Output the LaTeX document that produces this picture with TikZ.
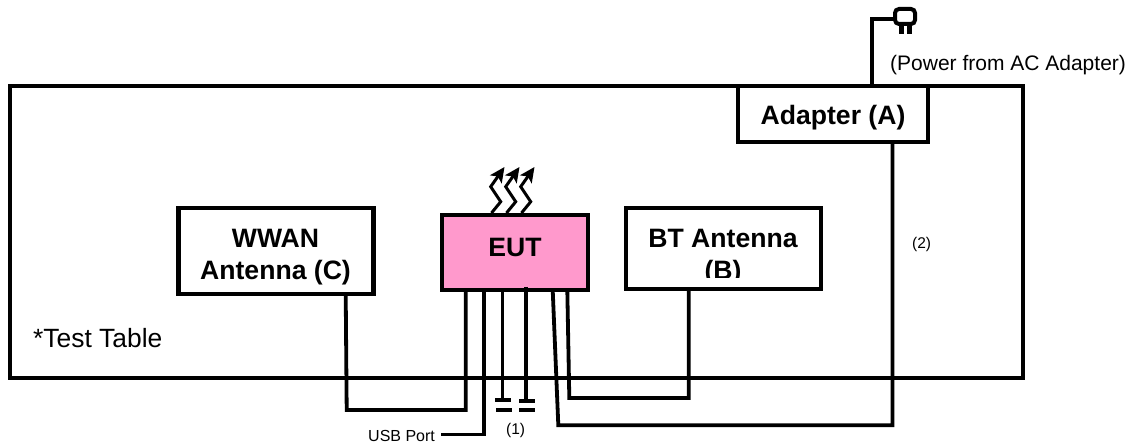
\documentclass[tikz,border=0pt]{standalone}
\usepackage{fontspec}
\setmainfont{Liberation Sans}
\usetikzlibrary{arrows.meta}
\definecolor{eutpink}{RGB}{255,153,204}
\tikzset{
  x=1pt,y=-1pt,
  box/.style={draw=black,line width=4.2pt,fill=white,inner sep=0pt,outer sep=0pt,anchor=north west},
  wire/.style={draw=black,line width=3.8pt,line join=miter},
  thinwire/.style={draw=black,line width=3.3pt},
  boxlabel/.style={font=\bfseries\fontsize{26.6}{32}\selectfont,align=center,anchor=center,inner sep=0pt},
  baselabel/.style={inner sep=0pt,anchor=base west},
  capplate/.style={draw=black,line width=4.2pt},
  emit/.style={draw=black,line width=3pt,line join=miter,-{Stealth[length=15pt,width=14pt,inset=3.5pt]}},
}
\begin{document}
\begin{tikzpicture}
\useasboundingbox (0,0) rectangle (1131,443);
% test table
\node[box,minimum width=1013pt,minimum height=292.3pt,fill=none] (table) at (9.7,85.7) {};
% boxes
\node[box,minimum width=190.3pt,minimum height=56pt] (adapter) at (738,85.7) {};
\node[box,minimum width=195pt,minimum height=86pt] (wwan) at (178.5,208) {};
\node[box,minimum width=146.3pt,minimum height=75pt,fill=eutpink] (eut) at (441.7,215) {};
\node[box,minimum width=195pt,minimum height=81.3pt] (bt) at (626,208) {};
% labels
\node[boxlabel] (adapterlabel) at (833,118) {Adapter (A)};
\node[boxlabel] (wwanlabel) at (275.5,257) {WWAN\\Antenna (C)};
\node[boxlabel] (eutlabel) at (515,247) {EUT};
\begin{scope}
\clip (626,208) rectangle (822,277.5);
\node[boxlabel] (btlabel) at (723,257) {BT Antenna\\(B)};
\end{scope}
\node[baselabel,font=\fontsize{26.4}{30}\selectfont] (tablelabel) at (33,347) {*Test Table};
\node[baselabel,font=\fontsize{21}{25}\selectfont] (powerlabel) at (890,70.5) {(Power from AC Adapter)};
\node[baselabel,font=\fontsize{16}{18}\selectfont] (usblabel) at (368,441) {USB Port};
\node[baselabel,font=\fontsize{15.5}{18}\selectfont] (onelabel) at (506,434) {(1)};
\node[baselabel,font=\fontsize{15.5}{18}\selectfont] (twolabel) at (912,249) {(2)};
% plug
\coordinate (plugcord) at (895,19.5);
\draw[wire,line width=4pt] (872,85.7) -- (872,19.5) -- (plugcord);
\draw[draw=black,line width=4pt,fill=white,rounded corners=4pt] (895,9) rectangle (915,24);
\fill[black] (899,25) rectangle (904,34.5);
\fill[black] (907,25) rectangle (912,34.5);
% WWAN to EUT
\draw[wire] (345.7,294) -- (346.7,410) -- (465.7,410) -- (465.7,290);
% USB
\coordinate (usbend) at (441,434.3);
\draw[thinwire] (484,290) -- (484,434.3) -- (usbend);
% caps
\draw[thinwire] (502.7,290) -- (502.7,400);
\draw[thinwire] (526,287) -- (526,401);
\draw[capplate] (495.3,400.3) -- (511,400.3);
\draw[capplate] (496,410.3) -- (512,410.3);
\draw[capplate] (519,401.3) -- (535,401.3);
\draw[capplate] (519,410.3) -- (535,410.3);
% to BT
\draw[wire] (567.3,290) -- (569.3,398) -- (688.7,398) -- (688.7,289.3);
% to Adapter
\draw[wire] (552.7,290) -- (558.3,425.3) -- (892.5,425.3) -- (892.5,141.7);
% emissions
\draw[emit] (491.5,213) -- (500.7,201.7) -- (490.7,186.7) -- (504.5,167);
\draw[emit] (506.5,213) -- (515.7,201.7) -- (505.7,186.7) -- (519.5,167);
\draw[emit] (521.5,213) -- (530.7,201.7) -- (520.7,186.7) -- (534.5,167);
\end{tikzpicture}
\end{document}
